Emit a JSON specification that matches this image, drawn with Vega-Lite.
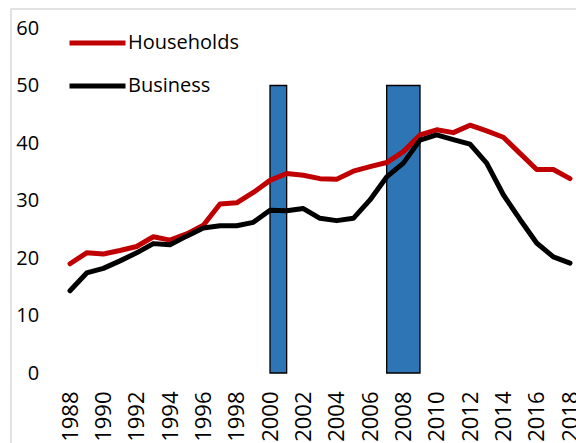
{
  "$schema": "https://vega.github.io/schema/vega-lite/v6.json",
  "autosize": {"type": "none"},
  "width": 514.3,
  "height": 345,
  "padding": {"left": 61.7, "top": 28, "right": 0, "bottom": 70},
  "background": "white",
  "config": {
    "font": "Open Sans",
    "view": {"stroke": null},
    "axis": {"labelFont": "Open Sans", "labelFontSize": 20, "labelColor": "#000000", "domain": false, "ticks": false, "tickSize": 0, "grid": false, "title": null}
  },
  "datasets": {
    "recessions": [
      {"start": 2000, "end": 2001, "top": 50},
      {"start": 2007, "end": 2009, "top": 50}
    ],
    "debt": [
      {"year": 1988, "series": "Households", "value": 19.0},
      {"year": 1989, "series": "Households", "value": 20.9},
      {"year": 1990, "series": "Households", "value": 20.7},
      {"year": 1991, "series": "Households", "value": 21.3},
      {"year": 1992, "series": "Households", "value": 22.0},
      {"year": 1993, "series": "Households", "value": 23.7},
      {"year": 1994, "series": "Households", "value": 23.1},
      {"year": 1995, "series": "Households", "value": 24.2},
      {"year": 1996, "series": "Households", "value": 25.7},
      {"year": 1997, "series": "Households", "value": 29.4},
      {"year": 1998, "series": "Households", "value": 29.6},
      {"year": 1999, "series": "Households", "value": 31.4},
      {"year": 2000, "series": "Households", "value": 33.5},
      {"year": 2001, "series": "Households", "value": 34.7},
      {"year": 2002, "series": "Households", "value": 34.4},
      {"year": 2003, "series": "Households", "value": 33.8},
      {"year": 2004, "series": "Households", "value": 33.7},
      {"year": 2005, "series": "Households", "value": 35.1},
      {"year": 2006, "series": "Households", "value": 35.9},
      {"year": 2007, "series": "Households", "value": 36.6},
      {"year": 2008, "series": "Households", "value": 38.5},
      {"year": 2009, "series": "Households", "value": 41.4},
      {"year": 2010, "series": "Households", "value": 42.3},
      {"year": 2011, "series": "Households", "value": 41.8},
      {"year": 2012, "series": "Households", "value": 43.1},
      {"year": 2013, "series": "Households", "value": 42.1},
      {"year": 2014, "series": "Households", "value": 41.0},
      {"year": 2015, "series": "Households", "value": 38.2},
      {"year": 2016, "series": "Households", "value": 35.4},
      {"year": 2017, "series": "Households", "value": 35.4},
      {"year": 2018, "series": "Households", "value": 33.8},
      {"year": 1988, "series": "Business", "value": 14.3},
      {"year": 1989, "series": "Business", "value": 17.4},
      {"year": 1990, "series": "Business", "value": 18.2},
      {"year": 1991, "series": "Business", "value": 19.5},
      {"year": 1992, "series": "Business", "value": 20.9},
      {"year": 1993, "series": "Business", "value": 22.5},
      {"year": 1994, "series": "Business", "value": 22.3},
      {"year": 1995, "series": "Business", "value": 23.8},
      {"year": 1996, "series": "Business", "value": 25.2},
      {"year": 1997, "series": "Business", "value": 25.6},
      {"year": 1998, "series": "Business", "value": 25.6},
      {"year": 1999, "series": "Business", "value": 26.2},
      {"year": 2000, "series": "Business", "value": 28.3},
      {"year": 2001, "series": "Business", "value": 28.2},
      {"year": 2002, "series": "Business", "value": 28.6},
      {"year": 2003, "series": "Business", "value": 26.9},
      {"year": 2004, "series": "Business", "value": 26.5},
      {"year": 2005, "series": "Business", "value": 26.9},
      {"year": 2006, "series": "Business", "value": 30.1},
      {"year": 2007, "series": "Business", "value": 34.1},
      {"year": 2008, "series": "Business", "value": 36.5},
      {"year": 2009, "series": "Business", "value": 40.5},
      {"year": 2010, "series": "Business", "value": 41.4},
      {"year": 2011, "series": "Business", "value": 40.6},
      {"year": 2012, "series": "Business", "value": 39.8},
      {"year": 2013, "series": "Business", "value": 36.5},
      {"year": 2014, "series": "Business", "value": 31.0},
      {"year": 2015, "series": "Business", "value": 26.7},
      {"year": 2016, "series": "Business", "value": 22.6},
      {"year": 2017, "series": "Business", "value": 20.2},
      {"year": 2018, "series": "Business", "value": 19.1}
    ]
  },
  "resolve": {"scale": {"x": "independent"}, "axis": {"x": "independent"}},
  "layer": [
    {
      "data": {"values": [{}]},
      "mark": {"type": "rect", "fill": null, "stroke": "#D9D9D9", "strokeWidth": 1.5, "clip": false},
      "encoding": {
        "x": {"datum": 0, "type": "quantitative", "scale": {"domain": [0, 1], "range": [-50.7, 540]}, "axis": null},
        "x2": {"datum": 1},
        "y": {"datum": 63.3, "type": "quantitative"},
        "y2": {"datum": -30}
      }
    },
    {
      "data": {"name": "recessions"},
      "mark": {"type": "rect", "fill": "#2E75B6", "stroke": "#000000", "strokeWidth": 1.3},
      "encoding": {
        "x": {"field": "start", "type": "ordinal",
              "scale": {"type": "point", "domain": [1988,1989,1990,1991,1992,1993,1994,1995,1996,1997,1998,1999,2000,2001,2002,2003,2004,2005,2006,2007,2008,2009,2010,2011,2012,2013,2014,2015,2016,2017,2018], "range": [8.3, 508.3], "padding": 0},
              "axis": null},
        "x2": {"field": "end"},
        "y": {"field": "top", "type": "quantitative",
              "scale": {"domain": [0, 60], "nice": false},
              "axis": {"values": [0,10,20,30,40,50,60], "labelPadding": 23}},
        "y2": {"datum": 0}
      }
    },
    {
      "data": {"name": "debt"},
      "mark": {"type": "line", "strokeWidth": 5, "strokeCap": "round", "strokeJoin": "round"},
      "encoding": {
        "x": {"field": "year", "type": "ordinal",
              "scale": {"type": "point", "domain": [1988,1989,1990,1991,1992,1993,1994,1995,1996,1997,1998,1999,2000,2001,2002,2003,2004,2005,2006,2007,2008,2009,2010,2011,2012,2013,2014,2015,2016,2017,2018], "range": [8.3, 508.3], "padding": 0},
              "axis": {"values": [1988,1990,1992,1994,1996,1998,2000,2002,2004,2006,2008,2010,2012,2014,2016,2018], "labelAngle": -90, "labelFontSize": 22, "labelPadding": 18, "labelOverlap": false}},
        "y": {"field": "value", "type": "quantitative"},
        "color": {"field": "series", "type": "nominal",
                  "scale": {"domain": ["Households", "Business"], "range": ["#C00000", "#000000"]},
                  "legend": {"orient": "none", "legendX": 5.3, "legendY": 5, "title": null, "padding": 0,
                             "symbolType": "stroke", "symbolSize": 3136, "symbolStrokeWidth": 5,
                             "clipHeight": 20, "rowPadding": 23, "labelFont": "Open Sans", "labelFontSize": 20,
                             "labelColor": "#000000", "labelOffset": 0}}
      }
    }
  ]
}
